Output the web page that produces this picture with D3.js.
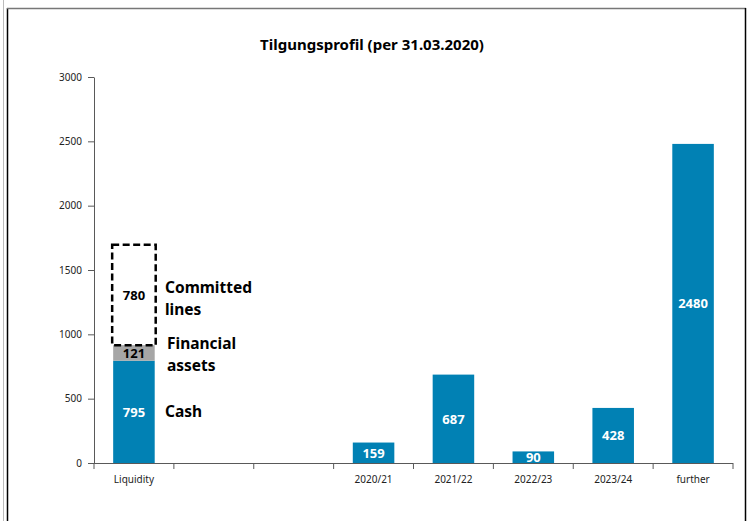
<!DOCTYPE html>
<html>
<head>
<meta charset="utf-8">
<script src="https://cdn.jsdelivr.net/npm/d3@7"></script>
<style>
  body { margin: 0; background: #fff; }
  svg { display: block; font-family: "Noto Sans", "Open Sans", sans-serif; }
</style>
</head>
<body>
<div id="chart"></div>
<script>
// data
const categories = ["Liquidity", "gap1", "gap2", "2020/21", "2021/22", "2022/23", "2023/24", "further"];
const tickLabels = ["Liquidity", "", "", "2020/21", "2021/22", "2022/23", "2023/24", "further"];
const maturityCats = ["2020/21", "2021/22", "2022/23", "2023/24", "further"];
const maturityValues = [159, 687, 90, 428, 2480];
const liquidityParts = ["Cash", "Financial assets", "Committed lines"];
const liquidityValues = [795, 121, 780];
const liquidityLabels = [["Cash"], ["Financial", "assets"], ["Committed", "lines"]];
const yTicks = [0, 500, 1000, 1500, 2000, 2500, 3000];

const width = 750, height = 521;
const margin = { top: 77, right: 17, bottom: 58, left: 94 };
const xEnd = width - margin.right;

const svg = d3.select("#chart").append("svg")
  .attr("width", width)
  .attr("height", height);

// outer frame
svg.append("line").attr("x1", 3.5).attr("x2", 3.5).attr("y1", 0).attr("y2", height)
  .attr("stroke", "#bbb").attr("stroke-width", 1);
svg.append("line").attr("x1", 7.5).attr("x2", 7.5).attr("y1", 8).attr("y2", height)
  .attr("stroke", "#000").attr("stroke-width", 1.5);
svg.append("line").attr("x1", 7).attr("x2", 746).attr("y1", 8.5).attr("y2", 8.5)
  .attr("stroke", "#777").attr("stroke-width", 1.5);
svg.append("line").attr("x1", 745.5).attr("x2", 745.5).attr("y1", 8).attr("y2", height)
  .attr("stroke", "#000").attr("stroke-width", 1.5);

// title
svg.append("text")
  .attr("x", 372).attr("y", 50)
  .attr("text-anchor", "middle")
  .attr("font-size", 15).attr("font-weight", "bold")
  .text("Tilgungsprofil (per 31.03.2020)");

const x = d3.scaleBand()
  .domain(categories)
  .range([margin.left, xEnd])
  .paddingInner(0.48).paddingOuter(0.24);

const y = d3.scaleLinear()
  .domain([0, 3000])
  .range([463, margin.top]);

const blue = "#0181b4", grey = "#a6a6a6", axisCol = "#595959";

// axes
const yAxis = svg.append("g")
  .attr("transform", `translate(${margin.left},0)`)
  .call(d3.axisLeft(y).tickValues(yTicks).tickFormat(d3.format("d")).tickSize(6).tickSizeOuter(0));
yAxis.select(".domain").attr("stroke", axisCol);
yAxis.selectAll(".tick line").attr("stroke", axisCol);
yAxis.selectAll(".tick text").attr("font-size", 10).attr("fill", "#222")
  .attr("x", -12).attr("font-family", "Noto Sans");

// x axis with ticks on band boundaries
const xg = svg.append("g").attr("transform", `translate(0,${y(0)})`);
xg.append("line").attr("x1", margin.left).attr("x2", xEnd).attr("y1", 0.5).attr("y2", 0.5)
  .attr("stroke", axisCol).attr("stroke-width", 1.2);
const bounds = d3.range(categories.length + 1).map(i => margin.left + i * (xEnd - margin.left) / categories.length);
xg.selectAll(".xt").data(bounds).join("line")
  .attr("x1", d => d).attr("x2", d => d).attr("y1", 0).attr("y2", 6)
  .attr("stroke", axisCol);
xg.selectAll(".xl").data(categories).join("text")
  .attr("x", d => x(d) + x.bandwidth() / 2)
  .attr("y", 20)
  .attr("text-anchor", "middle")
  .attr("font-size", 10).attr("fill", "#222")
  .text((d, i) => tickLabels[i]);

// liquidity stack
let acc = 0;
const stack = liquidityValues.map((v, i) => {
  const s = { part: liquidityParts[i], v, y0: acc, y1: acc + v, lines: liquidityLabels[i] };
  acc += v;
  return s;
});
const lx = x("Liquidity"), bw = x.bandwidth();

svg.selectAll(".liq").data(stack.slice(0, 2)).join("rect")
  .attr("x", lx).attr("width", bw)
  .attr("y", d => y(d.y1)).attr("height", d => y(d.y0) - y(d.y1))
  .attr("fill", (d, i) => i === 0 ? blue : grey);

const cl = stack[2];
svg.append("rect")
  .attr("x", lx - 1).attr("width", bw + 2)
  .attr("y", y(cl.y1)).attr("height", y(cl.y0) - y(cl.y1))
  .attr("fill", "none").attr("stroke", "#000").attr("stroke-width", 2.5)
  .attr("stroke-dasharray", "7,3.5");

svg.selectAll(".liqv").data(stack).join("text")
  .attr("x", lx + bw / 2)
  .attr("y", d => (y(d.y0) + y(d.y1)) / 2 + 5)
  .attr("text-anchor", "middle")
  .attr("font-size", 13).attr("font-weight", "bold")
  .attr("fill", (d, i) => i === 0 ? "#fff" : "#000")
  .text(d => d.v);

// side annotations
const annoY = [[412], [344, 366], [288, 310]];
stack.forEach((d, i) => {
  svg.append("text")
    .attr("font-size", 15.5).attr("font-weight", "bold")
    .selectAll("tspan").data(d.lines).join("tspan")
      .attr("x", i === 1 ? 167 : 165)
      .attr("y", (t, j) => annoY[i][j] + 5)
      .text(t => t);
});

// maturity bars
svg.selectAll(".bar").data(maturityCats).join("rect")
  .attr("x", d => x(d)).attr("width", bw)
  .attr("y", (d, i) => y(maturityValues[i]))
  .attr("height", (d, i) => y(0) - y(maturityValues[i]))
  .attr("fill", blue);

svg.selectAll(".barv").data(maturityCats).join("text")
  .attr("x", d => x(d) + bw / 2)
  .attr("y", (d, i) => (y(0) + y(maturityValues[i])) / 2 + 5)
  .attr("text-anchor", "middle")
  .attr("font-size", 13).attr("font-weight", "bold").attr("fill", "#fff")
  .text((d, i) => maturityValues[i]);
</script>
</body>
</html>
